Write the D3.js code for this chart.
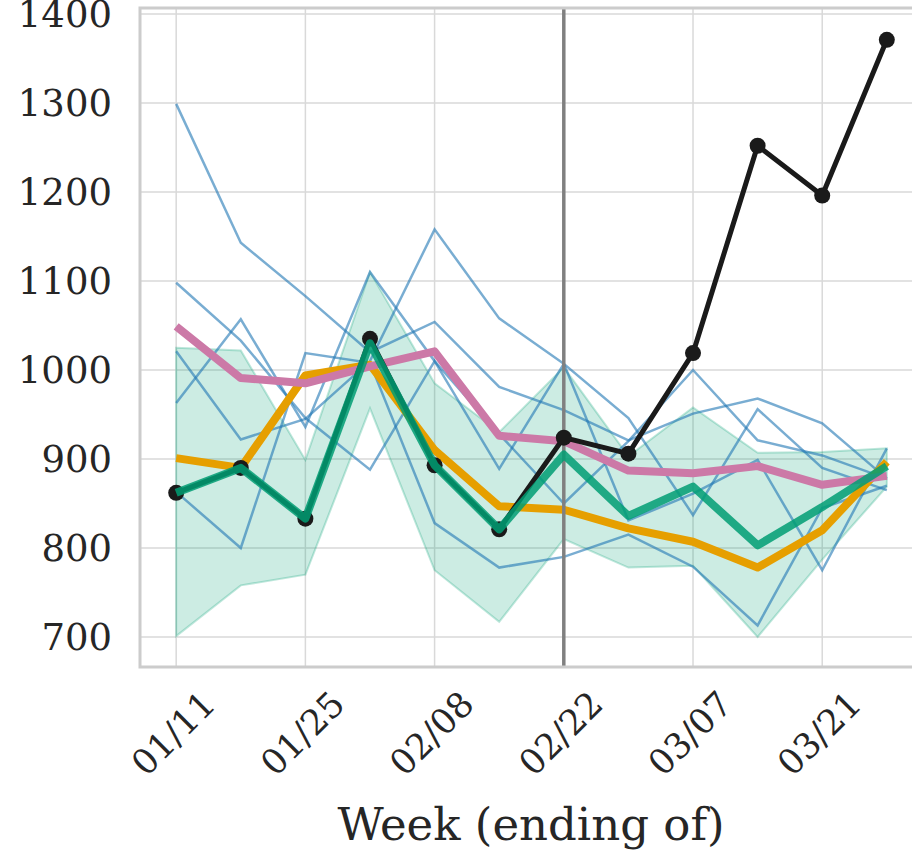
<!DOCTYPE html>
<html><head><meta charset="utf-8">
<script src="https://cdn.jsdelivr.net/npm/d3@7"></script>
<style>body{margin:0;background:#fff}svg{display:block}text{font-family:"DejaVu Serif",serif;fill:#262626}</style>
</head><body><div id="chart"></div>
<script>
const weeks = ["01/11","01/18","01/25","02/01","02/08","02/15","02/22","02/29","03/07","03/14","03/21","03/28"];
const tickWeeks = ["01/11","01/25","02/08","02/22","03/07","03/21"];
const yTicks = [700,800,900,1000,1100,1200,1300,1400];
const current = [862,890,833,1035,893,821,924,906,1019,1252,1196,1371];
const meanLine = [862,890,833,1030,893,821,905,836,869,803,846,892];
const bandUpper = [1025,1022,899,1110,985,930,1003,903,958,907,908,912];
const bandLower = [701,758,770,957,775,717,810,778,780,700,787,869];
const orangeLine = [901,890,994,1006,910,847,843,822,807,778,820,897];
const pinkLine = [1049,991,985,1004,1021,926,920,887,884,892,871,881];
const pastYears = [
  [1299,1143,1083,1020,1054,981,955,921,951,968,940,878],
  [1098,1033,946,888,1010,889,1007,946,837,956,890,865],
  [1021,922,945,1010,1158,1058,1007,831,861,899,775,912],
  [963,1057,936,1110,1010,928,850,920,1000,921,904,878],
  [863,800,1019,1008,828,778,790,815,779,713,845,870]
];
const markerWeek = "02/22";

const W = 912, H = 852;
const svg = d3.select("#chart").append("svg").attr("width", W).attr("height", H);

const x = d3.scaleLinear().domain([-0.56, 11.56]).range([140, 923]);
const y = d3.scaleLinear().domain([700, 1400]).range([637, 14]);
const plotTop = 8, plotBottom = 667;

// grid
svg.selectAll(".hg").data(yTicks).enter().append("line")
  .attr("x1", 140).attr("x2", W).attr("y1", d => y(d)).attr("y2", d => y(d))
  .attr("stroke", "#d9d9d9").attr("stroke-width", 1.5);
svg.selectAll(".vg").data(tickWeeks).enter().append("line")
  .attr("x1", d => x(weeks.indexOf(d))).attr("x2", d => x(weeks.indexOf(d)))
  .attr("y1", plotTop).attr("y2", plotBottom)
  .attr("stroke", "#d9d9d9").attr("stroke-width", 1.5);

// band
const area = d3.area().x((d, i) => x(i)).y0((d, i) => y(bandLower[i])).y1(d => y(d));
svg.append("path").datum(bandUpper).attr("d", area)
  .attr("fill", "#009e73").attr("fill-opacity", 0.2)
  .attr("stroke", "#009e73").attr("stroke-opacity", 0.25).attr("stroke-width", 2);

const line = d3.line().x((d, i) => x(i)).y(d => y(d));

svg.selectAll(".past").data(pastYears).enter().append("path")
  .attr("d", line).attr("fill", "none")
  .attr("stroke", "#1f77b4").attr("stroke-opacity", 0.6).attr("stroke-width", 2.5);

svg.append("path").datum(orangeLine).attr("d", line).attr("fill", "none")
  .attr("stroke", "#e69f00").attr("stroke-width", 8).attr("stroke-linejoin", "round");
svg.append("path").datum(pinkLine).attr("d", line).attr("fill", "none")
  .attr("stroke", "#cc79a7").attr("stroke-width", 8).attr("stroke-linejoin", "round");

// marker line
svg.append("line")
  .attr("x1", x(weeks.indexOf(markerWeek))).attr("x2", x(weeks.indexOf(markerWeek)))
  .attr("y1", plotTop).attr("y2", plotBottom).attr("stroke", "#808080").attr("stroke-width", 3.5);

svg.append("path").datum(current).attr("d", line).attr("fill", "none")
  .attr("stroke", "#1a1a1a").attr("stroke-width", 5);
svg.selectAll(".dot").data(current).enter().append("circle")
  .attr("cx", (d, i) => x(i)).attr("cy", d => y(d)).attr("r", 8).attr("fill", "#1a1a1a");

svg.append("path").datum(meanLine).attr("d", line).attr("fill", "none")
  .attr("stroke", "#009e73").attr("stroke-opacity", 0.85).attr("stroke-width", 8)
  .attr("stroke-linejoin", "round");

// frame
svg.append("path").attr("d", `M${W},${plotTop}H140V${plotBottom}H${W}`)
  .attr("fill", "none").attr("stroke", "#cccccc").attr("stroke-width", 3);

// tick labels
svg.selectAll(".yl").data(yTicks).enter().append("text")
  .attr("x", 112).attr("y", d => y(d)).attr("dy", "0.35em")
  .attr("text-anchor", "end").style("font-size", "37px").text(d => d);
svg.selectAll(".xl").data(tickWeeks).enter().append("text")
  .attr("text-anchor", "end").style("font-size", "35px")
  .attr("transform", d => `translate(${x(weeks.indexOf(d)) + 24},${plotBottom + 22}) rotate(-45)`)
  .attr("dy", "0.7em").text(d => d);

svg.append("text").attr("x", 531).attr("y", 840).attr("text-anchor", "middle")
  .style("font-size", "45px").text("Week (ending of)");
</script></body></html>
